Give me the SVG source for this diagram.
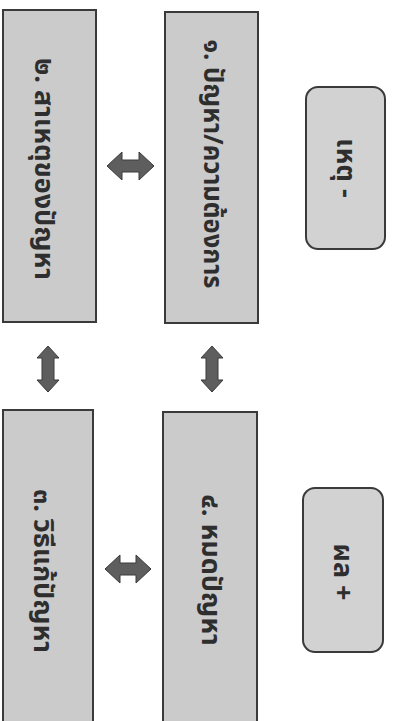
<svg xmlns="http://www.w3.org/2000/svg" width="395" height="721" viewBox="0 0 395 721">
<style>
.box{fill:#cbcbcb;stroke:#3a3a3a;stroke-width:2}
.rbox{fill:#d2d2d2;stroke:#3a3a3a;stroke-width:2}
.t{font-family:"Noto Sans Thai","Tahoma","DejaVu Sans","Liberation Sans",sans-serif;font-size:27px;font-weight:bold;fill:#2e2e2e;text-anchor:middle;dominant-baseline:central}
.arr{fill:#5e5e5e;stroke:#3a3a3a;stroke-width:1}
</style>
<rect width="395" height="721" fill="#ffffff"/>
<g id="node-2">
<rect class="box" x="3" y="10" width="93" height="312"/>
<text class="t" transform="translate(43,169) rotate(90)">๒. สาเหตุของปัญหา</text>
</g>
<g id="node-1">
<rect class="box" x="165" y="12" width="93" height="311"/>
<text class="t" transform="translate(212,164) rotate(90)" textLength="249" lengthAdjust="spacingAndGlyphs">๑. ปัญหา/ความต้องการ</text>
</g>
<g id="node-cause">
<rect class="rbox" x="306" y="87" width="79" height="162" rx="12"/>
<text class="t" transform="translate(345,168) rotate(90)">เหตุ -</text>
</g>
<g id="node-3">
<rect class="box" x="3" y="410" width="90" height="312"/>
<text class="t" transform="translate(42,571) rotate(90)">๓. วิธีแก้ปัญหา</text>
</g>
<g id="node-4">
<rect class="box" x="163" y="412" width="94" height="310"/>
<text class="t" transform="translate(210,570) rotate(90)">๔. หมดปัญหา</text>
</g>
<g id="node-effect">
<rect class="rbox" x="303" y="488" width="80" height="164" rx="12"/>
<text class="t" transform="translate(342,572) rotate(90)">ผล +</text>
</g>
<g id="connectors">
<path class="arr" d="M107,166 L122,152 L122,160 L139,160 L139,152 L154,166 L139,180 L139,172 L122,172 L122,180 Z"/>
<path class="arr" d="M105,569 L120,555 L120,563 L136,563 L136,555 L151,569 L136,583 L136,575 L120,575 L120,583 Z"/>
<path class="arr" d="M48,346 L59,358 L54,358 L54,380 L59,380 L48,392 L37,380 L42,380 L42,358 L37,358 Z"/>
<path class="arr" d="M212,346 L223,358 L218,358 L218,380 L223,380 L212,392 L201,380 L206,380 L206,358 L201,358 Z"/>
</g>
</svg>
